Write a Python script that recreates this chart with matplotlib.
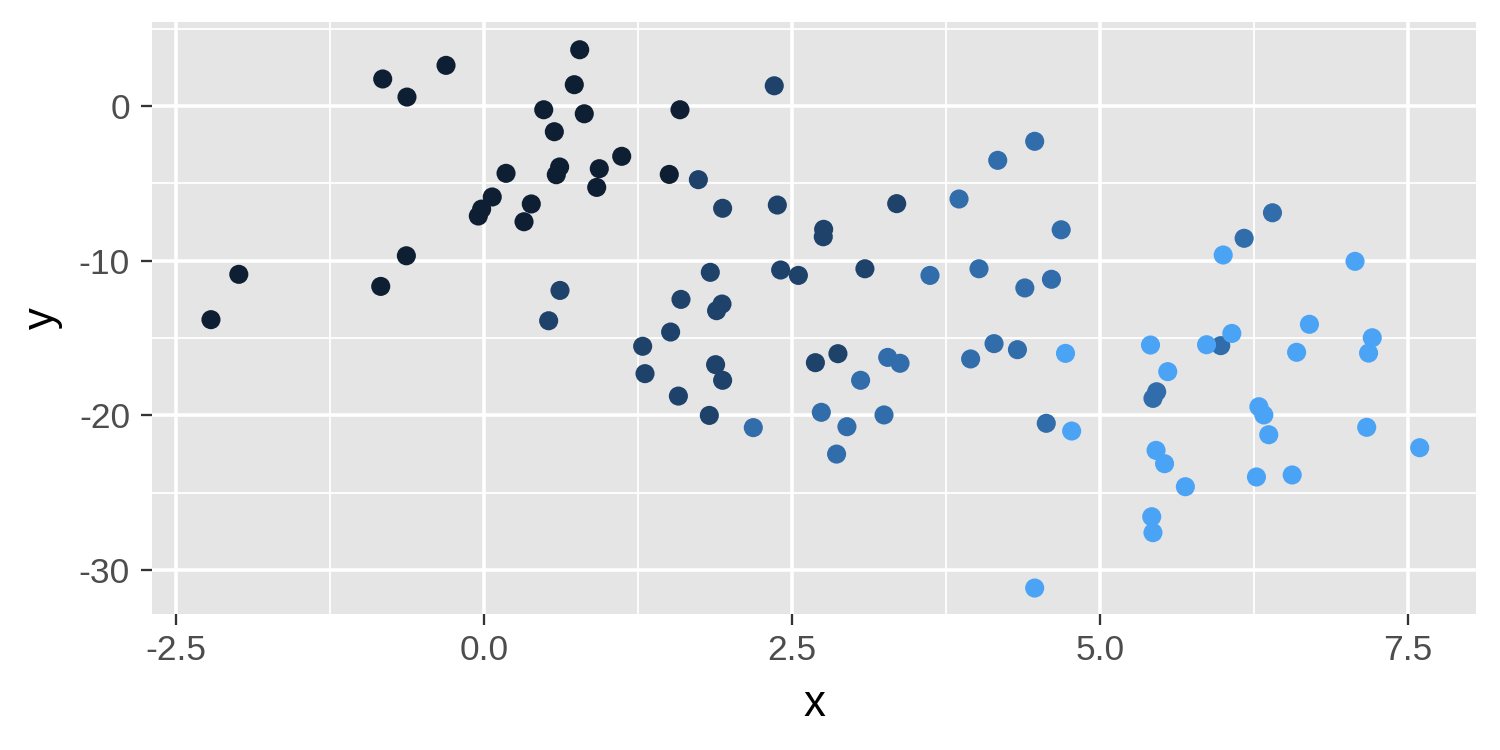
import numpy as np
import matplotlib.pyplot as plt
from matplotlib.colors import ListedColormap

plt.rcParams['font.family'] = ['Liberation Sans', 'DejaVu Sans']

# point coordinates, grouped by colour level (0 = darkest, 3 = lightest)
x_dark = [-0.822, -0.625, -0.308, 0.777, 0.733, 0.485, 0.814, 0.571, 0.179, 0.614,
          0.587, 0.936, 0.915, 0.067, -0.019, -0.046, 0.384, 0.325, -0.63, -1.99,
          -0.838, -2.216, 1.591, 1.118, 1.504]
y_dark = [1.75, 0.58, 2.63, 3.64, 1.38, -0.24, -0.5, -1.66, -4.35, -3.94,
          -4.44, -4.05, -5.26, -5.88, -6.66, -7.11, -6.33, -7.48, -9.68, -10.88,
          -11.66, -13.81, -0.24, -3.25, -4.42]

x_mid_dark = [0.617, 0.525, 2.356, 1.74, 1.937, 2.381, 2.757, 2.754, 3.35, 1.837,
              2.408, 2.552, 3.092, 1.599, 1.932, 1.888, 1.515, 1.288, 1.307, 1.88,
              1.937, 1.578, 1.829, 2.69, 2.873]
y_mid_dark = [-11.92, -13.88, 1.31, -4.76, -6.61, -6.4, -7.97, -8.45, -6.31, -10.75,
              -10.6, -10.95, -10.52, -12.5, -12.8, -13.23, -14.61, -15.53, -17.3, -16.72,
              -17.73, -18.75, -20.0, -16.59, -16.01]

x_mid = [3.856, 4.17, 4.47, 4.685, 3.62, 4.018, 4.39, 4.606, 2.186, 3.277,
         3.377, 3.057, 2.738, 2.946, 3.247, 2.862, 3.95, 4.14, 4.33, 5.98,
         5.46, 5.43, 4.564, 6.40, 6.17]
y_mid = [-6.01, -3.51, -2.28, -8.0, -10.95, -10.52, -11.76, -11.2, -20.79, -16.25,
         -16.63, -17.73, -19.8, -20.73, -19.97, -22.5, -16.35, -15.36, -15.75, -15.49,
         -18.47, -18.9, -20.51, -6.9, -8.55]

x_light = [6.0, 7.07, 6.70, 4.72, 5.41, 5.865, 6.07, 6.596, 7.21, 7.18,
           5.55, 6.29, 6.33, 6.37, 4.77, 7.165, 7.595, 5.455, 5.524, 5.693,
           6.27, 6.56, 5.42, 5.43, 4.47]
y_light = [-9.63, -10.04, -14.11, -15.99, -15.45, -15.43, -14.7, -15.92, -14.98, -15.97,
           -17.17, -19.44, -19.97, -21.25, -21.01, -20.77, -22.09, -22.26, -23.12, -24.61,
           -23.98, -23.85, -26.55, -27.58, -31.16]

level_colors = ['#0f1f33', '#1f426b', '#316cab', '#4aa3f5']

x = np.array(x_dark + x_mid_dark + x_mid + x_light)
y = np.array(y_dark + y_mid_dark + y_mid + y_light)
level = np.repeat(np.arange(4), [len(x_dark), len(x_mid_dark), len(x_mid), len(x_light)])

fig = plt.figure(figsize=(10, 5), dpi=150)
ax = fig.add_axes([0.1013, 0.1813, 0.8827, 0.7893])
ax.set_facecolor('#e5e5e5')

ax.scatter(x, y, c=level, cmap=ListedColormap(level_colors), vmin=-0.5, vmax=3.5,
           s=84, linewidths=0, zorder=3)

ax.set_xlim(-2.695, 8.052)
ax.set_ylim(-32.84, 5.43)

ax.set_xticks([-2.5, 0.0, 2.5, 5.0, 7.5])
ax.set_xticklabels(['-2.5', '0.0', '2.5', '5.0', '7.5'])
ax.set_yticks([-30, -20, -10, 0])
ax.set_yticklabels(['-30', '-20', '-10', '0'])
ax.set_xticks([-1.25, 1.25, 3.75, 6.25], minor=True)
ax.set_yticks([-25, -15, -5, 5], minor=True)

ax.grid(which='major', color='white', linewidth=1.7, zorder=0)
ax.grid(which='minor', color='white', linewidth=0.85, zorder=0)
ax.set_axisbelow(True)

ax.tick_params(which='major', length=5.5, width=1.1, color='#333333',
               labelsize=17, labelcolor='#4d4d4d')
ax.tick_params(axis='x', which='major', pad=4)
ax.tick_params(axis='y', which='major', pad=5)
ax.tick_params(which='minor', length=0)

for side in ax.spines.values():
    side.set_visible(False)

# axis titles placed like ggplot's
fig.text(814 / 1500, 1 - 705 / 750, 'x', fontsize=21, color='black',
         ha='center', va='center')
fig.text(42 / 1500, 1 - 318 / 750, 'y', fontsize=21, color='black',
         ha='center', va='center', rotation=90)

fig.savefig('out.png', dpi=150, facecolor='white')
